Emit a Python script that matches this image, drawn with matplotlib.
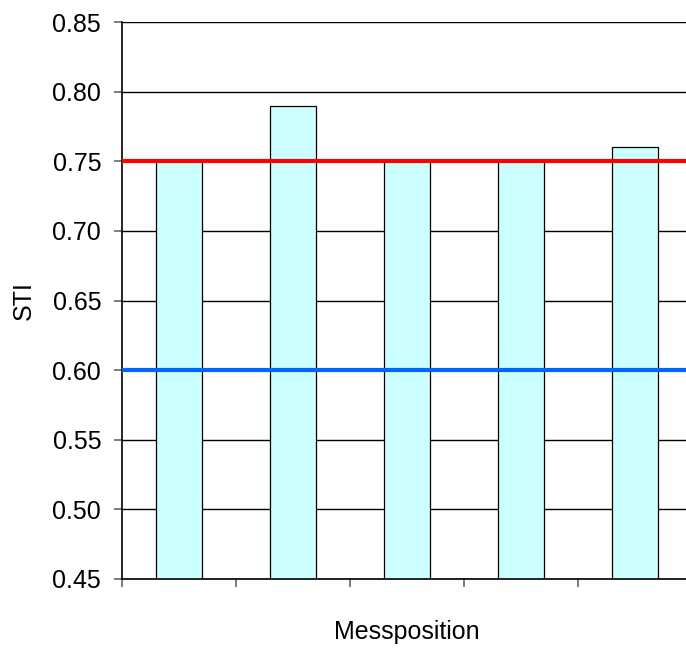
import numpy as np
import matplotlib.pyplot as plt

plt.rcParams['font.family'] = ['Liberation Sans', 'DejaVu Sans']

# STI per measurement position
positions = ['1', '2', '3', '4', '5']
sti = [0.75, 0.79, 0.75, 0.75, 0.76]
upper_limit = 0.75
lower_limit = 0.60

fig = plt.figure(figsize=(6.86, 6.48), dpi=100)
ax = fig.add_axes([0.1778, 0.1065, 0.8309, 0.8595])

index = np.arange(len(positions))
ax.bar(index, sti, width=0.4, color='#CCFFFF', edgecolor='black', linewidth=0.9, zorder=2)
ax.axhline(upper_limit, color='#FF0000', linewidth=3, zorder=3)
ax.axhline(lower_limit, color='#0066FF', linewidth=3, zorder=3)

ax.set_xlim(-0.5, len(positions) - 0.5)
ax.set_ylim(0.45, 0.85)
yticks = np.arange(0.45, 0.851, 0.05)
ax.set_yticks(yticks)
ax.set_yticklabels(['%.2f' % v for v in yticks])
ax.yaxis.grid(True, color='black', linewidth=1, zorder=0)
ax.set_axisbelow(True)

# category separators as ticks below the axis
ax.set_xticks(np.arange(-0.5, len(positions) - 0.5, 1))
ax.set_xticklabels([])
ax.tick_params(axis='x', direction='out', length=6, width=1.2, color='#666666')
ax.tick_params(axis='y', direction='out', length=6, width=1.2, color='#666666', labelsize=18, pad=9)

for s in ['top', 'right']:
    ax.spines[s].set_visible(False)
ax.spines['left'].set_linewidth(1.2)
ax.spines['bottom'].set_linewidth(1.2)

ax.set_ylabel('STI', fontsize=18, labelpad=12)
ax.set_xlabel('Messposition', fontsize=18, labelpad=20)

fig.savefig('out.png', dpi=100)
